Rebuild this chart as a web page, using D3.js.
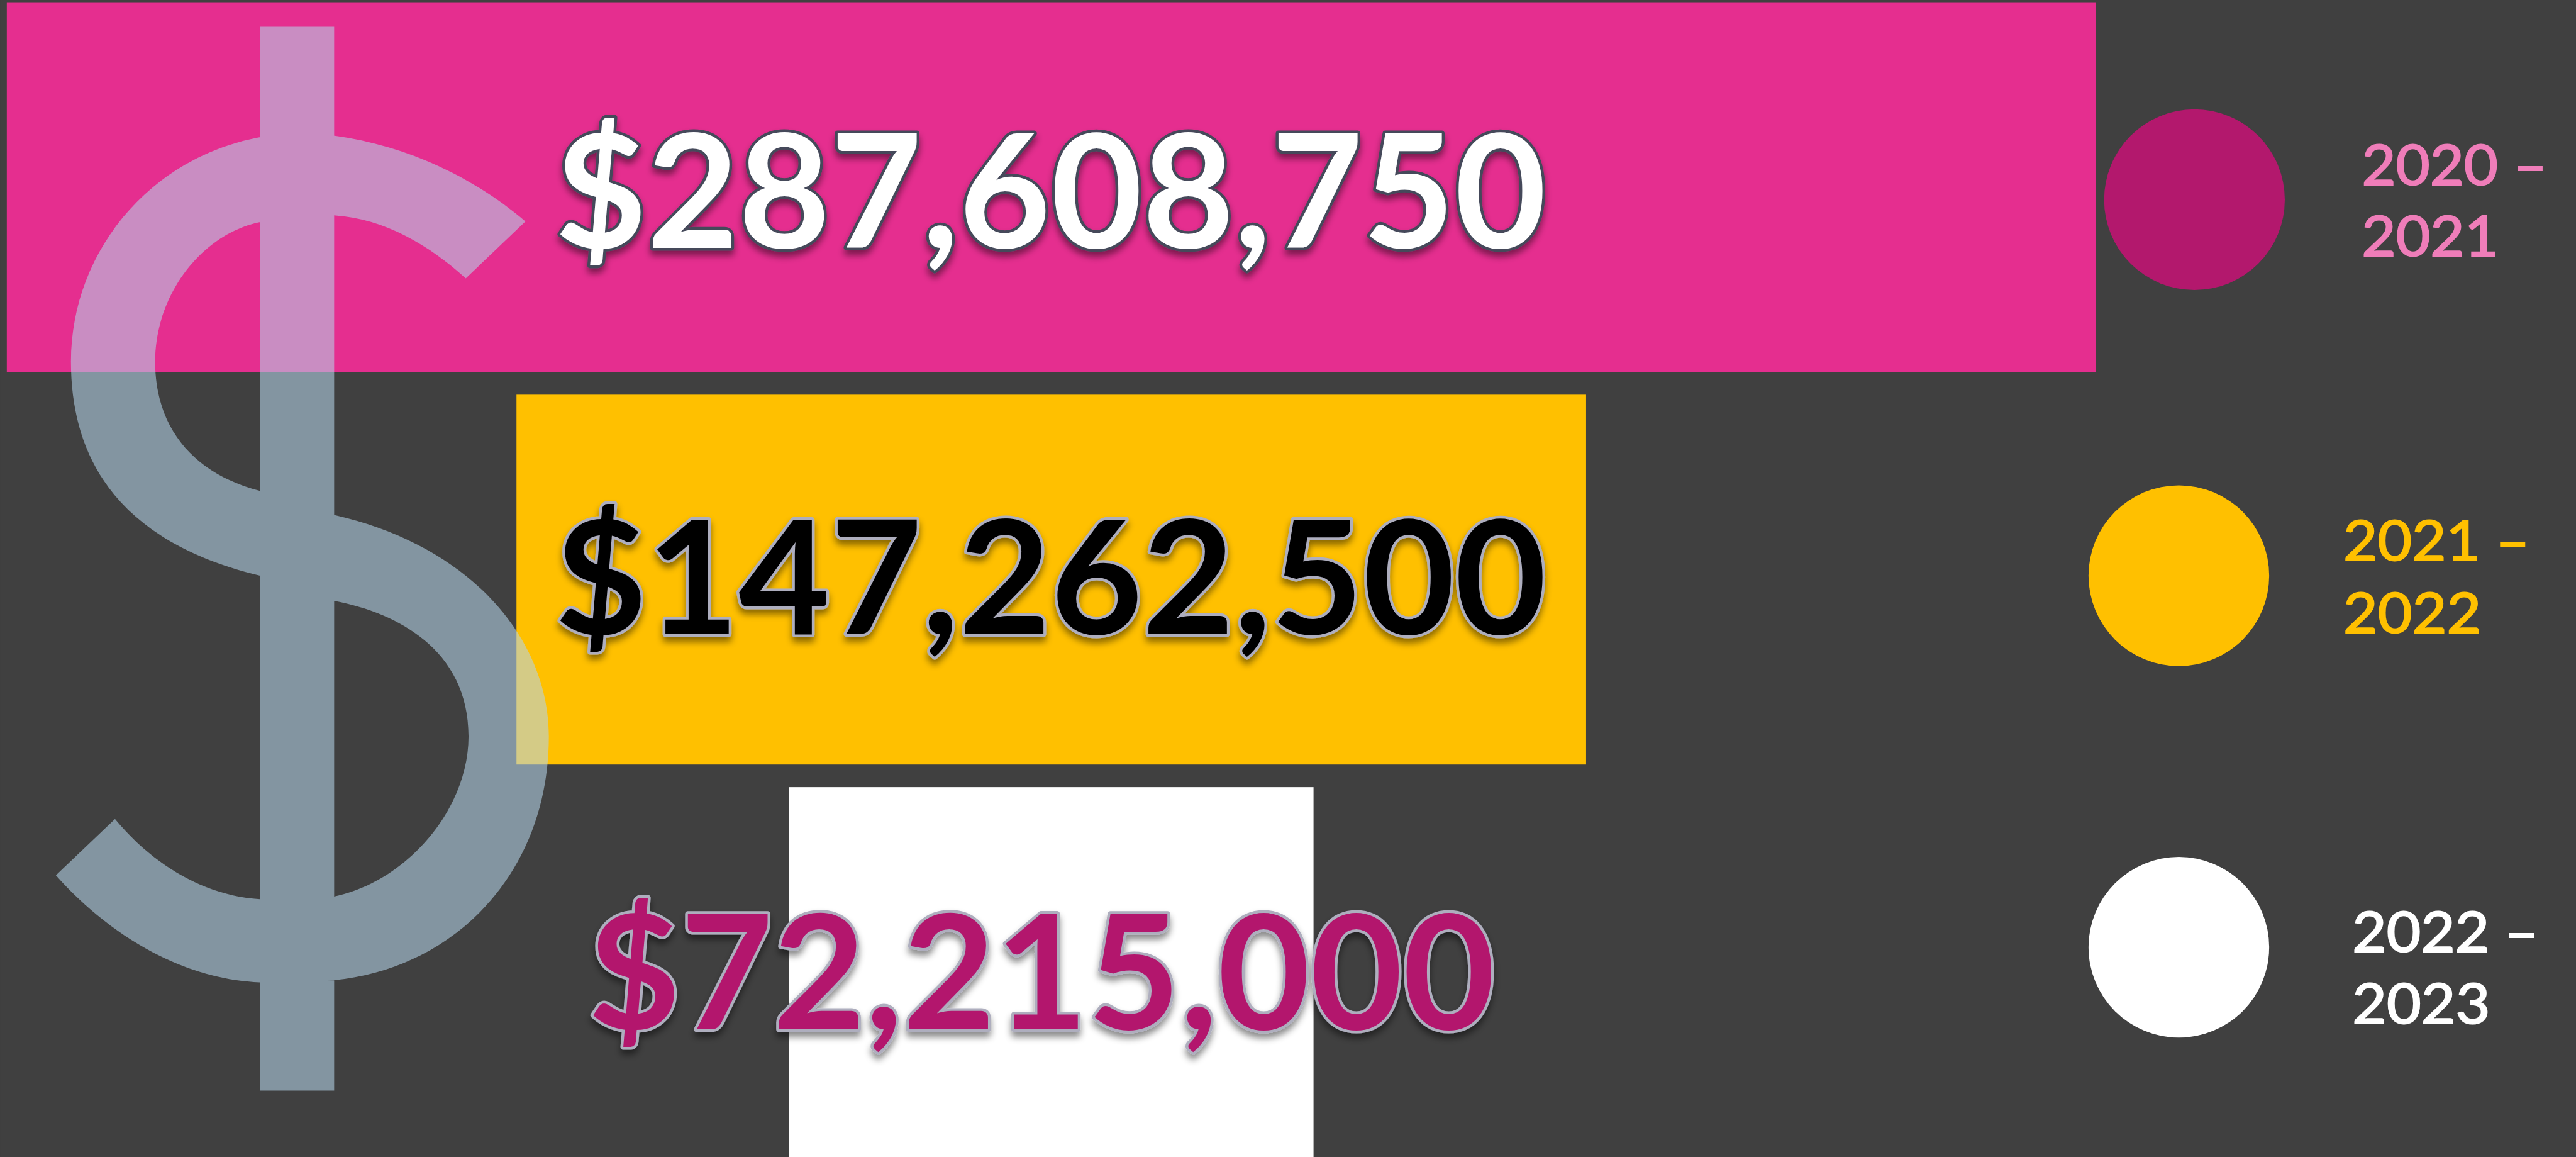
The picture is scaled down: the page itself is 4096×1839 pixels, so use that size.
<!DOCTYPE html>
<html><head><meta charset="utf-8">
<script src="https://cdn.jsdelivr.net/npm/d3@7"></script>
<style>html,body{margin:0;padding:0;background:#404040;overflow:hidden}svg{display:block}</style>
</head><body><div id="chart"></div>
<script>
// ---- data ----
const periods = ["2020 – 2021", "2021 – 2022", "2022 – 2023"];
const amounts = [287608750, 147262500, 72215000];
const barColors = ["#E52E8F", "#FFC000", "#FFFFFF"];
const labelFill = ["#FFFFFF", "#000000", "#B3186D"];
const labelStroke = ["#44485A", "#AEAEBE", "#AEAEBE"];
const dotColors = ["#B3186D", "#FFC000", "#FFFFFF"];
const legendText = ["#EF7DB9", "#FFC000", "#FFFFFF"];

// ---- layout, in reference pixels (4619×2074) ----
const W = 4619, H = 2074, CX = 1885;
const labelBox = [[1004, 2768, 211, 489], [1004, 2768, 901, 1181], [1063, 2676, 1609, 1889]];
const dotX = [3935, 3907, 3907], dotY = [358, 1032, 1698], dotR = 162;
const legendBox = [
  [[4240, 4559, 257, 333], [4240, 4474, 385, 461]],
  [[4207, 4528, 931, 1007], [4207, 4444, 1060, 1136]],
  [[4223, 4544, 1632, 1708], [4223, 4460, 1761, 1837]]
];
// decorative dollar-sign outline (S curve plus vertical bar), not a data mark
const dollarShape = "M942,397 C840,310 700,245 540,238 C290,245 127,440 127,648 C127,840 230,975 466,1032 L599,1077 " +
  "C720,1100 840,1170 840,1320 C840,1450 730,1580 599,1607 L466,1612 C360,1605 270,1545 206,1468 L100,1569 " +
  "C190,1670 320,1755 466,1761 L599,1757 C820,1735 984,1560 984,1320 C984,1150 850,980 599,923 L466,880 " +
  "C350,850 278,770 278,648 C278,530 360,420 466,398 C510,388 555,384 599,386 C690,392 770,440 835,499 Z " +
  "M466,48 V1955 H599 V48 Z";

const svg = d3.select("#chart").append("svg")
  .attr("width", 4096).attr("height", 1839).attr("viewBox", `0 0 ${W} ${H}`);
svg.append("rect").attr("width", W).attr("height", H).attr("fill", "#404040");

const defs = svg.append("defs");
const shadow = defs.append("filter").attr("id", "shadow")
  .attr("x", "-5%").attr("y", "-10%").attr("width", "110%").attr("height", "125%");
shadow.append("feDropShadow").attr("dx", 0).attr("dy", 9).attr("stdDeviation", 6)
  .attr("flood-color", "#000").attr("flood-opacity", 0.45);

const x = d3.scaleLinear().domain([0, amounts[0]]).range([0, 3746]);
const y = d3.scaleBand().domain(periods).range([4, 2074]).paddingInner(0.0576);

svg.append("g").selectAll("rect").data(periods).join("rect")
  .attr("x", (d, i) => CX - x(amounts[i]) / 2)
  .attr("y", d => y(d))
  .attr("width", (d, i) => x(amounts[i]))
  .attr("height", y.bandwidth())
  .attr("fill", (d, i) => barColors[i]);

const ctx = document.createElement("canvas").getContext("2d");
function fit(parent, text, weight, [x0, x1, y0, y1]) {
  ctx.font = `${weight} 1000px Lato`;
  const m = ctx.measureText(text);
  const fs = 1000 * (y1 - y0) / (m.actualBoundingBoxAscent + m.actualBoundingBoxDescent);
  const k = fs / 1000;
  const sx = (x1 - x0) / ((m.actualBoundingBoxRight + m.actualBoundingBoxLeft) * k);
  return parent.append("text").text(text)
    .attr("font-family", "Lato").attr("font-weight", weight).attr("font-size", fs)
    .attr("transform", `translate(${x0 + m.actualBoundingBoxLeft * k * sx},${y0 + m.actualBoundingBoxAscent * k}) scale(${sx},1)`);
}

// big translucent dollar sign
svg.append("path").attr("d", dollarShape)
  .attr("fill", "#B4D4E8").attr("fill-opacity", 0.576);

// value labels
const fmt = d3.format("$,");
amounts.forEach((a, i) => {
  const g = svg.append("g").attr("filter", "url(#shadow)");
  fit(g, fmt(a), 700, labelBox[i])
    .attr("fill", labelFill[i]).attr("stroke", labelStroke[i]).attr("stroke-width", 10)
    .attr("paint-order", "stroke").attr("stroke-linejoin", "round");
});

// legend
svg.append("g").selectAll("circle").data(periods).join("circle")
  .attr("cx", (d, i) => dotX[i]).attr("cy", (d, i) => dotY[i]).attr("r", dotR)
  .attr("fill", (d, i) => dotColors[i]);
periods.forEach((p, i) => {
  const idx = p.indexOf("– ");
  const lines = [p.slice(0, idx + 1), p.slice(idx + 2)];
  lines.forEach((t, j) => fit(svg.append("g"), t, 400, legendBox[i][j])
    .attr("fill", legendText[i]).attr("stroke", legendText[i]).attr("stroke-width", 2.5));
});
</script></body></html>
